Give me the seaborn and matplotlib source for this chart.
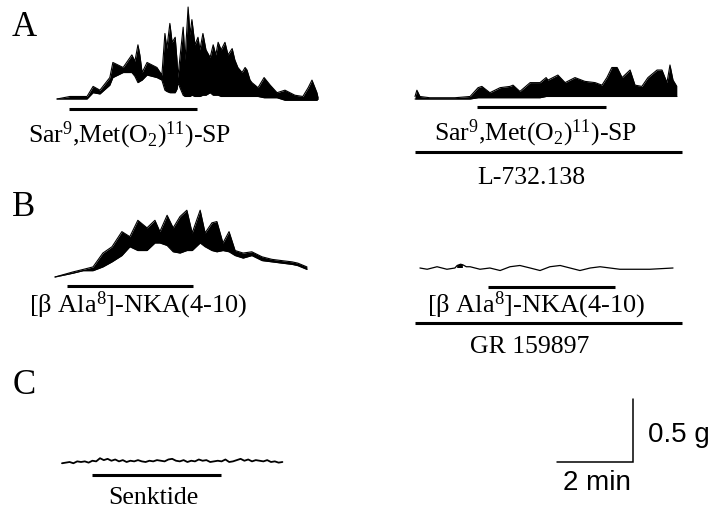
import matplotlib
matplotlib.use("Agg")
import matplotlib.pyplot as plt
import seaborn as sns

# canvas and recording scale (pixels per unit, from the scale bar)
W, H = 713, 511
PX_MIN = 38.0
PX_G = 126.0

# scale bar
scale_time_min = 2
scale_force_g = 0.5

# --- A, left: Sar9,Met(O2)11-SP alone (envelope of the contractions, g) ---
a1_t = [0, .34, .79, .95, 1.13, 1.39, 1.47, 1.74, 1.97, 2.05,
        2.13, 2.18, 2.24, 2.37, 2.63, 2.76, 2.84, 2.89, 2.97, 3.03,
        3.11, 3.16, 3.18, 3.32, 3.37, 3.45, 3.50, 3.55, 3.63, 3.71,
        3.76, 3.84, 3.92, 4.03, 4.11, 4.18, 4.24, 4.32, 4.42, 4.50,
        4.61, 4.68, 4.76, 4.87, 4.95, 5.0, 5.08, 5.13, 5.29, 5.45,
        5.61, 5.79, 6.0, 6.26, 6.47, 6.61, 6.71, 6.84, 6.87]
a1_hi = [0, .02, .02, .10, .07, .17, .29, .25, .35, .30,
         .43, .35, .21, .29, .25, .19, .52, .40, .60, .45,
         .49, .30, .17, .57, .31, .73, .51, .63, .43, .49,
         .39, .52, .39, .33, .43, .35, .45, .39, .45, .35,
         .40, .31, .25, .21, .25, .23, .15, .13, .09, .17,
         .11, .05, .07, .03, .02, .09, .15, .05, .01]
a1_lo = [0, 0, 0, .05, .04, .11, .17, .21, .21, .18,
         .13, .14, .15, .19, .17, .15, .07, .06, .05, .05,
         .05, .08, .13, .03, .02, .02, .02, .03, .02, .02,
         .02, .03, .03, .05, .03, .03, .03, .02, .02, .02,
         .02, .02, .02, .02, .02, .02, .02, .02, .02, .01,
         .01, .01, -.01, -.01, -.01, -.01, -.01, -.01, 0]
a1_drug = (0.32, 3.68)

# --- A, right: Sar9,Met(O2)11-SP in presence of L-732,138 ---
a2_t = [0, .05, .13, .39, 1.05, 1.45, 1.66, 1.76, 1.97, 2.24, 2.5, 2.58, 2.76, 3.03,
        3.29, 3.45, 3.5, 3.76, 3.95, 4.21, 4.47, 4.74, 4.92, 5.05, 5.18, 5.32, 5.45,
        5.66, 5.79, 5.97, 6.13, 6.37, 6.5, 6.63, 6.71, 6.79, 6.89]
a2_hi = [.02, .07, .02, .01, .01, .02, .09, .10, .05, .09, .10, .11, .06, .13,
         .13, .17, .15, .19, .13, .17, .14, .13, .11, .17, .25, .25, .17,
         .23, .11, .10, .17, .23, .23, .13, .27, .15, .10]
a2_lo = [0, 0, 0, 0, 0, 0, .01, .01, .01, .01, .01, .01, .01, .01,
         .01, .02, .02, .02, .02, .02, .02, .02, .02, .02, .02, .02, .02,
         .02, .02, .02, .02, .02, .02, .02, .02, .02, .02]
a2_drug = (1.63, 5.03)
a2_antag = (0.0, 7.03)

# --- B, left: [bAla8]-NKA(4-10) alone ---
b1_t = [0, .47, .74, 1.0, 1.26, 1.5, 1.76, 1.97, 2.18, 2.42, 2.63, 2.76, 2.95, 3.11,
        3.29, 3.47, 3.61, 3.82, 3.95, 4.13, 4.26, 4.42, 4.58, 4.74, 4.95, 5.18,
        5.45, 5.71, 5.97, 6.24, 6.39, 6.63]
b1_hi = [0, .04, .06, .08, .19, .24, .36, .32, .45, .39, .45, .36, .49, .39,
         .48, .53, .35, .53, .35, .43, .44, .27, .36, .21, .19, .20,
         .16, .14, .13, .12, .11, .08]
b1_lo = [0, .03, .05, .05, .08, .12, .17, .24, .21, .21, .27, .27, .25, .20,
         .19, .21, .21, .27, .24, .21, .20, .21, .20, .17, .15, .17,
         .13, .12, .11, .10, .09, .06]
b1_drug = (0.32, 3.63)

# --- B, right: [bAla8]-NKA(4-10) in presence of GR 159897 ---
b2_t = [.13, .32, .58, .84, 1.05, 1.11, 1.2, 1.26, 1.35, 1.45, 1.71, 1.97, 2.24, 2.5,
        2.76, 3.03, 3.29, 3.55, 3.82, 4.08, 4.34, 4.61, 4.87, 5.13, 5.39, 5.66,
        5.92, 6.18, 6.79]
b2_v = [0, -.01, .01, -.01, 0, .02, .03, .025, .01, .01, -.01, 0, -.02, .01,
        .02, 0, -.02, .01, .02, 0, -.02, 0, .01, 0, -.01, -.01,
        -.01, -.01, 0]
b2_drug = (1.92, 5.26)
b2_antag = (0.0, 7.03)

# --- C: senktide ---
c_t = [0, .1, .2, .3, .4, .5, .6, .7, .8, .9,
       1.0, 1.1, 1.2, 1.3, 1.4, 1.5, 1.6, 1.7, 1.8, 1.9,
       2.0, 2.1, 2.2, 2.3, 2.4, 2.5, 2.6, 2.7, 2.8, 2.9,
       3.0, 3.1, 3.2, 3.3, 3.4, 3.5, 3.6, 3.7, 3.8, 3.9,
       4.0, 4.1, 4.2, 4.3, 4.4, 4.5, 4.6, 4.7, 4.8, 4.9,
       5.0, 5.1, 5.2, 5.3, 5.4, 5.5, 5.6, 5.7, 5.8]
c_v = [-.01, -.005, 0, -.01, .005, 0, .005, -.005, .01, .005,
       .03, .015, .025, .01, .02, .005, .015, 0, .01, .005,
       .015, .005, 0, .01, .005, .015, .01, .005, .02, .025,
       .01, .005, .015, 0, .01, .005, .02, .01, .015, 0,
       .005, .01, .005, .02, 0, .005, .015, .025, .01, .02,
       .005, .015, .01, .005, .015, 0, .005, -.005, 0]
c_drug = (0.79, 4.18)

sns.set_theme(style="white")
plt.rcParams["font.family"] = ["Liberation Serif", "DejaVu Serif"]
plt.rcParams["text.color"] = "black"
plt.rcParams["mathtext.fontset"] = "custom"
plt.rcParams["mathtext.rm"] = "Liberation Serif"
plt.rcParams["mathtext.it"] = "Liberation Serif"

fig = plt.figure(figsize=(W / 100, H / 100), dpi=100)


def trace_axes(x0, y0, xlim=(-0.3, 7.3), ylim=(-0.5, 0.8)):
    """axes whose data origin sits at pixel (x0, y0), 1 min = PX_MIN px, 1 g = PX_G px"""
    left = x0 + xlim[0] * PX_MIN
    width = (xlim[1] - xlim[0]) * PX_MIN
    bot = y0 - ylim[0] * PX_G
    top = y0 - ylim[1] * PX_G
    ax = fig.add_axes([left / W, (H - bot) / H, width / W, (bot - top) / H])
    ax.set_xlim(*xlim)
    ax.set_ylim(*ylim)
    ax.set_axis_off()
    return ax


def envelope(ax, t, lo, hi):
    ax.fill_between(t, lo, hi, color="black", lw=0)
    sns.lineplot(x=t, y=hi, ax=ax, color="black", lw=0.8)
    sns.lineplot(x=t, y=lo, ax=ax, color="black", lw=0.8)


def bar(ax, span, y, lw=2.2):
    ax.hlines(y, span[0], span[1], color="black", lw=lw, clip_on=False)


# A left
ax = trace_axes(57, 99)
envelope(ax, a1_t, a1_lo, a1_hi)
bar(ax, a1_drug, -0.08)

# A right
ax = trace_axes(415, 99)
envelope(ax, a2_t, a2_lo, a2_hi)
bar(ax, a2_drug, -0.065)
bar(ax, a2_antag, -0.42)

# B left
ax = trace_axes(55, 277)
envelope(ax, b1_t, b1_lo, b1_hi)
bar(ax, b1_drug, -0.071)

# B right
ax = trace_axes(415, 268)
sns.lineplot(x=b2_t, y=b2_v, ax=ax, color="black", lw=0.9)
ax.fill_between(b2_t, 0, b2_v, where=[v > 0.015 for v in b2_v], color="black", lw=0)
bar(ax, b2_drug, -0.15)
bar(ax, b2_antag, -0.437)

# C
ax = trace_axes(62, 462)
sns.lineplot(x=c_t, y=c_v, ax=ax, color="black", lw=1.3)
bar(ax, c_drug, -0.103)

# scale bar
ax = trace_axes(633, 462, xlim=(-2.3, 0.3), ylim=(-0.1, 0.6))
ax.plot([-scale_time_min, 0, 0], [0, 0, scale_force_g], color="black", lw=1.1,
        solid_joinstyle="miter")

# text overlay in pixel coordinates
ov = fig.add_axes([0, 0, 1, 1])
ov.set_xlim(0, W)
ov.set_ylim(H, 0)
ov.set_axis_off()
ov.patch.set_alpha(0)

for letter, y in [("A", 27), ("B", 207), ("C", 385)]:
    ov.text(24, y, letter, fontsize=25, ha="center", va="center")

lab = dict(fontsize=18.5, ha="center", va="center")
sp = r"Sar$^9$,Met(O$_2$)$^{11}$)-SP"
nka = r"[$\beta$ Ala$^8$]-NKA(4-10)"
ov.text(130, 135, sp, **lab)
ov.text(536, 133, sp, **lab)
ov.text(531, 178, "L-732.138", **lab)
ov.text(138, 305, nka, fontsize=19, ha="center", va="center")
ov.text(536, 305, nka, fontsize=19, ha="center", va="center")
ov.text(530, 347, "GR 159897", **lab)
ov.text(153, 498, "Senktide", **lab)

sans = dict(fontsize=20, family=["Liberation Sans", "DejaVu Sans"])
ov.text(648, 435, f"{scale_force_g} g", ha="left", va="center", **sans)
ov.text(597, 483, f"{scale_time_min} min", ha="center", va="center", **sans)

fig.savefig("out.png", dpi=100, facecolor="white")
